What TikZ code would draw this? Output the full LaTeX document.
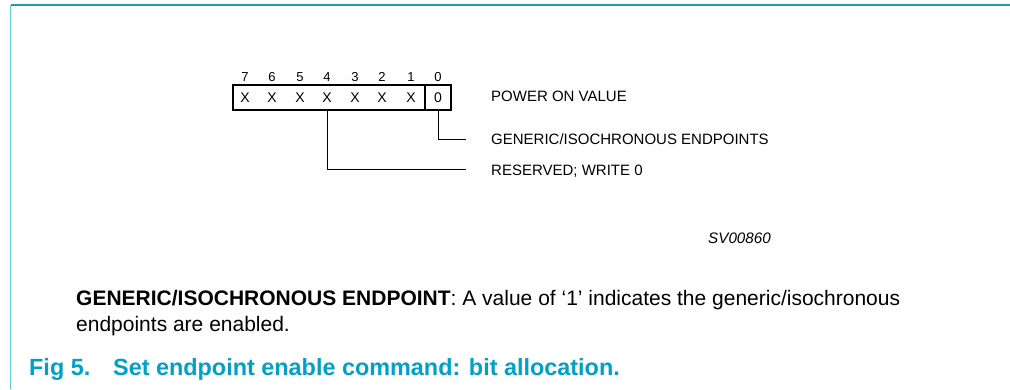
\documentclass[tikz,border=0pt]{standalone}
\usepackage{fontspec}
\setmainfont{Liberation Sans}
\usetikzlibrary{positioning}
\definecolor{capblue}{RGB}{0,160,200}
\definecolor{frametop}{RGB}{30,155,180}
\definecolor{frameside}{RGB}{100,200,222}

\begin{document}
\begin{tikzpicture}[x=1pt, y=-1pt,
  bitval/.style={inner sep=0pt, font=\fontsize{14}{14}\selectfont},
  bitnum/.style={inner sep=0pt, font=\fontsize{13}{13}\selectfont},
  fld/.style={anchor=base west, inner sep=0pt, font=\fontsize{15}{15}\selectfont},
  body/.style={anchor=base west, inner sep=0pt, font=\fontsize{21}{26}\selectfont},
  figtitle/.style={anchor=base west, inner sep=0pt, text=capblue, font=\bfseries\fontsize{23.4}{24}\selectfont},
  lead/.style={line width=0.9pt}]
\useasboundingbox (0,0) rectangle (1010,389);
\draw[frametop, line width=1.3pt] (10.5,5) -- (1010,5);
\draw[frameside, line width=1.6pt] (10.5,5) -- (10.5,389);
% register
\draw[line width=1.6pt] (233,85) rectangle (451,110);
\node[draw, line width=2.2pt, minimum width=26pt, minimum height=25pt, inner sep=0pt, font=\fontsize{14}{14}\selectfont] (b0) at (438,97.5) {0};
\foreach \i/\xx in {7/245,6/272,5/300,4/327,3/355,2/382,1/411}
  \node[bitval] (b\i) at (\xx,97.5) {X};
\foreach \i/\xx in {7/245,6/272,5/300,4/327,3/355,2/382,1/411,0/438}
  \node[bitnum] (n\i) at (\xx,77) {\i};
% fields
\node[fld] (pwr) at (491,101) {POWER ON VALUE};
\node[fld] (gen) at (491,144) {GENERIC/ISOCHRONOUS ENDPOINTS};
\node[fld] (rsv) at (491,175) {RESERVED; WRITE 0};
\coordinate (gen-end) at (466,139);
\coordinate (rsv-end) at (466,169.5);
\draw[lead] (b0.south) |- (gen-end);
\draw[lead] (b4 |- b0.south) |- (rsv-end);
\node[inner sep=0pt, font=\itshape\fontsize{15.2}{15}\selectfont] (svno) at (739.5,238) {SV00860};
% description and caption
\node[body] (desc1) at (76,305) {\textbf{GENERIC/ISOCHRONOUS ENDPOINT}: A value of `1' indicates the generic/isochronous};
\node[body] (desc2) at (76,331) {endpoints are enabled.};
\node[figtitle] (figno) at (29,375) {Fig 5.};
\node[figtitle] (figcap) at (113,375) {Set endpoint enable command: bit allocation.};
\end{tikzpicture}
\end{document}
